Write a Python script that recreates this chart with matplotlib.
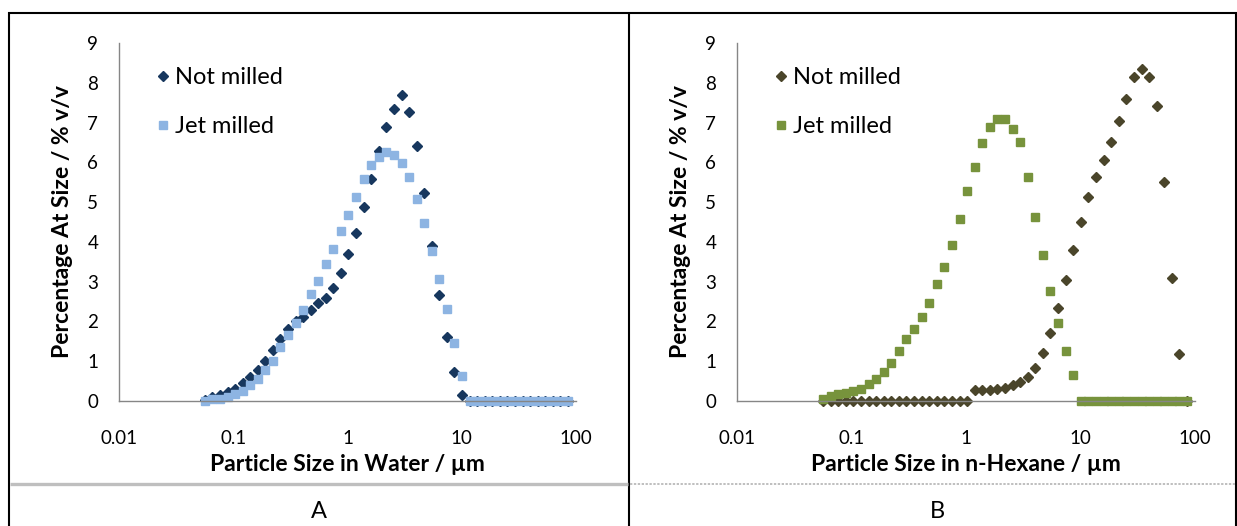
import matplotlib
matplotlib.use("Agg")
import matplotlib.pyplot as plt
from matplotlib.lines import Line2D

plt.rcParams['font.family'] = ['Lato', 'DejaVu Sans']

# Laser-diffraction size classes (µm)
sizes = [0.0565, 0.0658, 0.0766, 0.0893, 0.104, 0.121, 0.141, 0.164, 0.191, 0.223,
         0.259, 0.302, 0.352, 0.410, 0.477, 0.556, 0.647, 0.754, 0.879, 1.02,
         1.19, 1.39, 1.62, 1.88, 2.19, 2.55, 2.97, 3.46, 4.03, 4.70,
         5.47, 6.37, 7.42, 8.64, 10.1, 11.7, 13.6, 15.9, 18.5, 21.6,
         25.1, 29.2, 34.1, 39.7, 46.2, 53.8, 62.7, 73.0, 85.0]

# Panel A: dispersed in water (% v/v)
water_not_milled = [0.02, 0.09, 0.14, 0.23, 0.31, 0.44, 0.60, 0.79, 1.00, 1.28,
                    1.57, 1.82, 2.00, 2.10, 2.28, 2.47, 2.60, 2.83, 3.23, 3.69,
                    4.23, 4.87, 5.58, 6.29, 6.88, 7.34, 7.70, 7.26, 6.40, 5.22,
                    3.90, 2.66, 1.61, 0.73, 0.14, 0, 0, 0, 0, 0,
                    0, 0, 0, 0, 0, 0, 0, 0, 0]
water_jet_milled = [0.01, 0.04, 0.06, 0.10, 0.17, 0.25, 0.40, 0.56, 0.77, 1.01,
                    1.36, 1.65, 1.97, 2.30, 2.68, 3.02, 3.44, 3.82, 4.27, 4.68,
                    5.12, 5.58, 5.93, 6.13, 6.25, 6.19, 5.98, 5.63, 5.08, 4.47,
                    3.78, 3.07, 2.32, 1.46, 0.62, 0, 0, 0, 0, 0,
                    0, 0, 0, 0, 0, 0, 0, 0, 0]

# Panel B: dispersed in n-hexane (% v/v)
hexane_not_milled = [0, 0, 0, 0, 0, 0, 0, 0, 0, 0,
                     0, 0, 0, 0, 0, 0, 0, 0, 0, 0,
                     0.27, 0.27, 0.27, 0.29, 0.32, 0.40, 0.48, 0.61, 0.84, 1.21,
                     1.70, 2.33, 3.04, 3.80, 4.51, 5.13, 5.63, 6.07, 6.52, 7.03,
                     7.60, 8.15, 8.35, 8.15, 7.41, 5.51, 3.09, 1.17, 0]
hexane_jet_milled = [0.05, 0.12, 0.17, 0.21, 0.25, 0.30, 0.42, 0.55, 0.72, 0.96,
                     1.26, 1.56, 1.82, 2.12, 2.47, 2.93, 3.37, 3.92, 4.57, 5.28,
                     5.88, 6.48, 6.88, 7.10, 7.10, 6.84, 6.52, 5.63, 4.63, 3.68,
                     2.77, 1.97, 1.26, 0.65, 0, 0, 0, 0, 0, 0,
                     0, 0, 0, 0, 0, 0, 0, 0, 0]

series_labels = ["Not milled", "Jet milled"]
x_ticks = [0.01, 0.1, 1, 10, 100]
x_tick_labels = ["0.01", "0.1", "1", "10", "100"]
y_ticks = list(range(0, 10))
x_titles = ["Particle Size in Water / µm", "Particle Size in n-Hexane / µm"]
y_title = "Percentage At Size / % v/v"
panel_names = ["A", "B"]

W, H = 1237, 526
fig = plt.figure(figsize=(W / 100, H / 100), dpi=100)


def px_box(x0, x1, ytop, ybot):
    return [x0 / W, 1 - ybot / H, (x1 - x0) / W, (ybot - ytop) / H]


axes_boxes = [px_box(119, 576, 43, 401), px_box(737, 1195, 43, 401)]
panels = [
    (water_not_milled, water_jet_milled, "#17375E", "#8DB4E2"),
    (hexane_not_milled, hexane_jet_milled, "#4A452A", "#77933C"),
]

for i, (box, (nm, jm, c_nm, c_jm)) in enumerate(zip(axes_boxes, panels)):
    ax = fig.add_axes(box)
    ax.plot(sizes, nm, linestyle="none", marker="D", markersize=5.6,
            color=c_nm, label=series_labels[0])
    ax.plot(sizes, jm, linestyle="none", marker="s", markersize=5.6,
            color=c_jm, label=series_labels[1])
    ax.set_xscale("log")
    ax.set_xlim(0.01, 100)
    ax.set_ylim(0, 9)
    ax.set_xticks(x_ticks)
    ax.set_xticklabels(x_tick_labels)
    ax.minorticks_off()
    ax.set_yticks(y_ticks)
    for side in ("top", "right"):
        ax.spines[side].set_visible(False)
    for side in ("left", "bottom"):
        ax.spines[side].set_color("#868686")
        ax.spines[side].set_linewidth(1.0)
    ax.spines["left"].set_zorder(0)
    ax.tick_params(axis="both", length=0, labelsize=13.5, colors="black")
    ax.tick_params(axis="x", pad=21)
    ax.tick_params(axis="y", pad=15)
    ax.set_xlabel(x_titles[i], fontsize=16.5, fontweight="bold", labelpad=5)
    ax.set_ylabel(y_title, fontsize=16.5, fontweight="bold", labelpad=10)
    ax.patch.set_alpha(0)
    for ln in ax.lines:
        ln.set_clip_on(False)
    ax.legend(loc="upper left", bbox_to_anchor=(0.06, 0.96), frameon=False,
              fontsize=17, handlelength=0.6, handletextpad=0.2,
              labelspacing=1.2, borderaxespad=0, markerscale=1.0)


def fig_line(x0, y0, x1, y1, **kw):
    fig.add_artist(Line2D([x0 / W, x1 / W], [1 - y0 / H, 1 - y1 / H],
                          transform=fig.transFigure, **kw))


# Table frame around the two panels
black = dict(color="black", linewidth=1.5, solid_capstyle="butt")
fig_line(8, 13, 1237, 13, **black)
fig_line(9, 12, 9, 526, **black)
fig_line(629, 12, 629, 526, **black)
fig_line(1236, 12, 1236, 526, **black)
fig_line(10, 484, 628, 484, color="#BFBFBF", linewidth=2.4, solid_capstyle="butt")
fig_line(630, 484, 1235, 484, color="#BFBFBF", linewidth=1.4,
         linestyle=(0, (1.2, 0.8)))

fig.text(319 / W, 1 - 511 / H, panel_names[0], ha="center", va="center", fontsize=17)
fig.text(937 / W, 1 - 511 / H, panel_names[1], ha="center", va="center", fontsize=17)

fig.savefig("out.png", dpi=100)
